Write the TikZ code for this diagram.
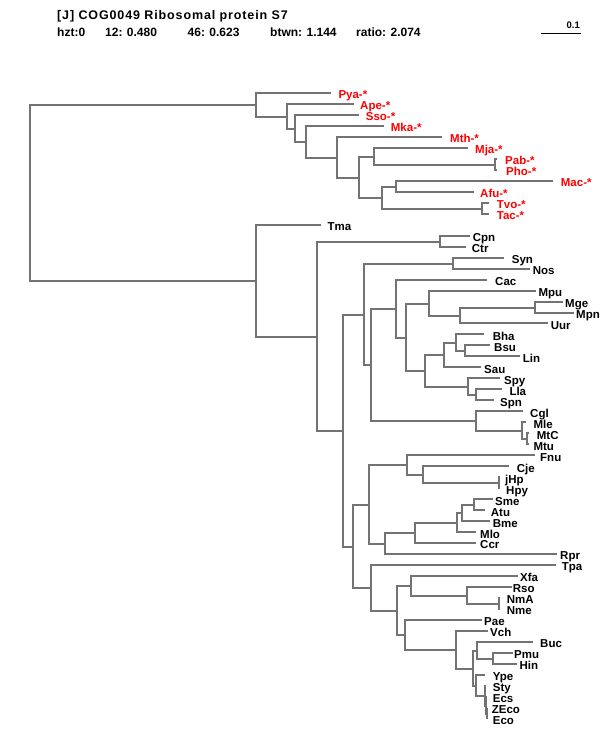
\documentclass[tikz,border=0pt]{standalone}
\usepackage{fontspec}
\setmainfont{Liberation Sans}
\usepackage{xcolor}
\usetikzlibrary{calc}

\newcommand{\clade}[4]{%
  \path let \p1=(#3), \p2=(#4) in coordinate (#1) at ({round(#2)*1pt}, {round(0.5*(\y1+\y2))*1pt});
  \draw[branch] (#3) -| (#1) |- (#4);}

\begin{document}
\begin{tikzpicture}[x=1pt, y=-1pt]
  \tikzstyle{branch} = [draw=black!55, line width=1.6pt]
  \tikzstyle{taxon} = [anchor=base west, inner sep=0pt, font=\fontsize{11.5}{11.5}\selectfont\bfseries]
  \tikzstyle{archaeon} = [taxon, text=red]
  \tikzstyle{header} = [anchor=base west, inner sep=0pt, font=\fontsize{12}{12}\selectfont\bfseries]

  \useasboundingbox (0,0) rectangle (600,750);

  \node [header, font=\fontsize{12.5}{12.5}\selectfont\bfseries\addfontfeature{LetterSpace=7}] (title) at (57,19) {[J] COG0049 Ribosomal protein S7};
  \node [header] (hzt) at (57,36) {hzt:0};
  \node [header] (s12) at (105,36) {12: 0.480};
  \node [header] (s46) at (187.5,36) {46: 0.623};
  \node [header] (btwn) at (270,36) {btwn: 1.144};
  \node [header] (ratio) at (356,36) {ratio: 2.074};

  \coordinate (sbl) at (541,33);
  \coordinate (sbr) at (581,33);
  \draw [line width=1pt] (sbl) -- (sbr);
  \node [anchor=base east, inner sep=0pt, font=\fontsize{9.5}{9.5}\selectfont\bfseries] (sbtext) at (580,28) {0.1};

  % leaves: tip x / label x
  \foreach \nm/\tx/\lx [count=\i from 0] in {Pya/331/338.3, Ape/354/360, Sso/359.3/365.7,
      Mka/384.3/390.7, Mth/442.3/450, Mja/467.7/475, Pab/497.3/505, Pho/497.3/506,
      Mac/553.3/560.7, Afu/474.3/480, Tvo/489.3/496.7, Tac/489.3/496.7} {
    \coordinate (\nm) at ({round(\tx)}, {round(92.7+10.99*\i)});
    \node [archaeon] (l\nm) at (\lx, {98.4+10.99*\i}) {\nm-*};
  }
  \foreach \nm/\tx/\lx [count=\i from 12] in {Tma/321/327.3, Cpn/470/472.7, Ctr/466/471.7,
      Syn/504/511.7, Nos/530/532.7, Cac/486.7/495, Mpu/536/538.3, Mge/563/565,
      Mpn/574/576, Uur/548.3/550.7, Bha/484.3/492.7, Bsu/490/494, Lin/520/522.7,
      Sau/481/484, Spy/500/504, Lla/501.7/509.3, Spn/494/500, Cgl/522.7/530,
      Mle/525.7/533.3, MtC/528.7/536.7, Mtu/528.7/533.3, Fnu/535/540,
      Cje/509.3/516.7, jHp/500/505, Hpy/500/506, Sme/492.7/495, Atu/485/490.7,
      Bme/490/492.7, Mlo/476/480, Ccr/475.7/480, Rpr/556.7/560, Tpa/556/561.7,
      Xfa/518.3/520, Rso/511.7/512.7, NmA/500/506.7, Nme/500/506.7, Pae/481.7/484,
      Vch/488.3/490, Buc/533.3/540, Pmu/513.3/514, Hin/516.7/519.3, Ype/485/492.7,
      Sty/486/492.7, Ecs/486.5/492.7, ZEco/487/491.7, Eco/487/492.7} {
    \coordinate (\nm) at ({round(\tx)}, {round(92.7+10.99*\i)});
    \node [taxon] (l\nm) at (\lx, {98.4+10.99*\i}) {\nm};
  }

  % archaea
  \clade{A9}{495}{Pab}{Pho}
  \clade{A7}{373.5}{Mja}{A9}
  \clade{A10}{396}{Mac}{Afu}
  \clade{A11}{481.7}{Tvo}{Tac}
  \clade{A8}{382.3}{A10}{A11}
  \clade{A6}{358.7}{A7}{A8}
  \clade{A5}{337.3}{Mth}{A6}
  \clade{A4}{306}{Mka}{A5}
  \clade{A3}{295.3}{Sso}{A4}
  \clade{A2}{286.7}{Ape}{A3}
  \clade{A1}{255.7}{Pya}{A2}

  % bacteria
  \clade{C1}{440}{Cpn}{Ctr}
  \clade{SN}{452.7}{Syn}{Nos}
  \clade{MM}{535}{Mge}{Mpn}
  \clade{B10}{460}{MM}{Uur}
  \clade{B8}{429.3}{Mpu}{B10}
  \clade{BL}{464.5}{Bsu}{Lin}
  \clade{BB}{455.7}{Bha}{BL}
  \clade{B11}{443.8}{BB}{Sau}
  \clade{LS}{475.7}{Lla}{Spn}
  \clade{B12}{467.7}{Spy}{LS}
  \clade{B9}{425}{B11}{B12}
  \clade{B7}{406}{B8}{B9}
  \clade{B6}{395.5}{Cac}{B7}
  \clade{MT}{526.7}{MtC}{Mtu}
  \clade{Myc}{522.3}{Mle}{MT}
  \clade{CM}{475.7}{Cgl}{Myc}
  \clade{B5}{371.3}{B6}{CM}
  \clade{B3}{363.7}{SN}{B5}
  \clade{Hp}{499}{jHp}{Hpy}
  \clade{B17}{422.7}{Cje}{Hp}
  \clade{B15}{406.7}{Fnu}{B17}
  \clade{SA}{474}{Sme}{Atu}
  \clade{B20}{461.7}{SA}{Bme}
  \clade{B19}{457}{B20}{Mlo}
  \clade{B18}{414.7}{B19}{Ccr}
  \clade{B16}{385}{B18}{Rpr}
  \clade{B13}{369.3}{B15}{B16}
  \clade{Nm}{499.3}{NmA}{Nme}
  \clade{B24}{466.7}{Rso}{Nm}
  \clade{B22}{410.7}{Xfa}{B24}
  \clade{PH}{493.3}{Pmu}{Hin}
  \clade{B27}{477}{Buc}{PH}
  \clade{ZE}{486.5}{ZEco}{Eco}
  \clade{EZE}{486}{Ecs}{ZE}
  \clade{B29}{485}{Sty}{EZE}
  \clade{B28}{475.7}{Ype}{B29}
  \clade{B26}{472.7}{B27}{B28}
  \clade{B25}{456}{Vch}{B26}
  \clade{B23}{405}{Pae}{B25}
  \clade{B21}{396.7}{B22}{B23}
  \clade{B14}{370.7}{Tpa}{B21}
  \clade{B4}{352.7}{B13}{B14}
  \clade{B2}{343.3}{B3}{B4}
  \clade{B1}{316.7}{C1}{B2}
  \clade{B0}{255.7}{Tma}{B1}

  \clade{root}{30}{A1}{B0}
\end{tikzpicture}
\end{document}
